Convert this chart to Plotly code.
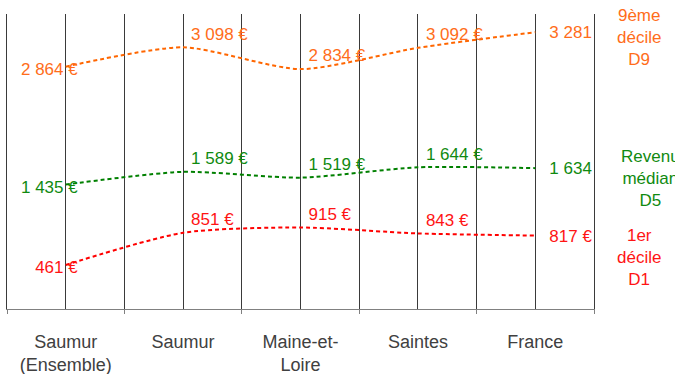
import plotly.graph_objects as go

# --- data -------------------------------------------------------------
categories = ["Saumur<br>(Ensemble)", "Saumur", "Maine-et-<br>Loire", "Saintes", "France"]
d9_values = [2864, 3098, 2834, 3092, 3281]
d5_values = [1435, 1589, 1519, 1644, 1634]
d1_values = [461, 851, 915, 843, 817]
series_labels = ["9ème<br>décile<br>D9", "Revenu<br>médian<br>D5", "1er<br>décile<br>D1"]

# --- layout constants -------------------------------------------------
WIDTH, HEIGHT = 675, 374
MARGIN = dict(l=7, r=81, t=14, b=65, pad=0)
PLOT_W = WIDTH - MARGIN["l"] - MARGIN["r"]
PLOT_H = HEIGHT - MARGIN["t"] - MARGIN["b"]
X_RANGE = [-0.5, len(categories) - 0.5]
Y_RANGE = [-73, 3502]
PX_PER_X = PLOT_W / (X_RANGE[1] - X_RANGE[0])
PX_PER_Y = PLOT_H / (Y_RANGE[1] - Y_RANGE[0])

GRID = "#3a3a3a"
AXIS = "#808080"
FONT = "Liberation Sans"

styles = [
    dict(values=d9_values, line="#ff6600", text="#ff6d1a", legend_px=(615, 37.5)),
    dict(values=d5_values, line="#008000", text="#108a10", legend_px=(619, 178)),
    dict(values=d1_values, line="#ff0000", text="#ff1414", legend_px=(615, 257.5)),
]

# value-label placement per column: (textposition, shift right px, shift down px)
label_place = [
    ("middle left", 12, 4),
    ("middle right", 8, -12),
    ("middle right", 8, -12),
    ("middle right", 8, -12),
    ("middle right", 14, 2),
]


def euro(v):
    return f"{v:,}".replace(",", " ") + " €"


idx = list(range(len(categories)))
fig = go.Figure()

for st in styles:
    vals = st["values"]
    fig.add_trace(go.Scatter(
        x=idx, y=vals, mode="lines",
        line=dict(color=st["line"], width=2, dash="4px,3px", shape="spline", smoothing=0.7),
        hoverinfo="skip", showlegend=False,
    ))
    fig.add_trace(go.Scatter(
        x=[i + label_place[i][1] / PX_PER_X for i in idx],
        y=[v - label_place[i][2] / PX_PER_Y for i, v in zip(idx, vals)],
        mode="text",
        text=[euro(v) for v in vals],
        textposition=[p[0] for p in label_place],
        textfont=dict(family=FONT, size=17, color=st["text"]),
        cliponaxis=True, hoverinfo="skip", showlegend=False,
    ))

for st, name in zip(styles, series_labels):
    lx, ly = st["legend_px"]
    fig.add_annotation(
        x=(lx - MARGIN["l"]) / PLOT_W, y=(HEIGHT - MARGIN["b"] - ly) / PLOT_H,
        xref="paper", yref="paper", xanchor="left", yanchor="middle", align="center",
        text=name, showarrow=False,
        font=dict(family=FONT, size=17, color=st["text"]),
    )

boundaries = [i - 0.5 for i in range(len(categories) + 1)]

fig.update_xaxes(
    range=X_RANGE, tickmode="array", tickvals=idx, ticktext=categories,
    ticks="", showgrid=True, gridcolor=GRID, gridwidth=1, zeroline=False,
    showline=True, linecolor=AXIS, linewidth=1,
    minor=dict(tickmode="array", tickvals=boundaries, ticks="outside", ticklen=4,
               tickcolor=AXIS, tickwidth=1, showgrid=True, gridcolor=GRID, gridwidth=1),
    tickfont=dict(family=FONT, size=18, color="#404040"),
    ticklabelstandoff=16, automargin=False, fixedrange=True,
)
fig.update_yaxes(
    range=Y_RANGE, showticklabels=False, showgrid=False, zeroline=False, ticks="",
    showline=True, mirror=True, linecolor=GRID, linewidth=1,
    automargin=False, fixedrange=True,
)

fig.update_layout(
    width=WIDTH, height=HEIGHT, margin=MARGIN,
    paper_bgcolor="white", plot_bgcolor="white",
    showlegend=False,
)

fig.write_html("out.html")
